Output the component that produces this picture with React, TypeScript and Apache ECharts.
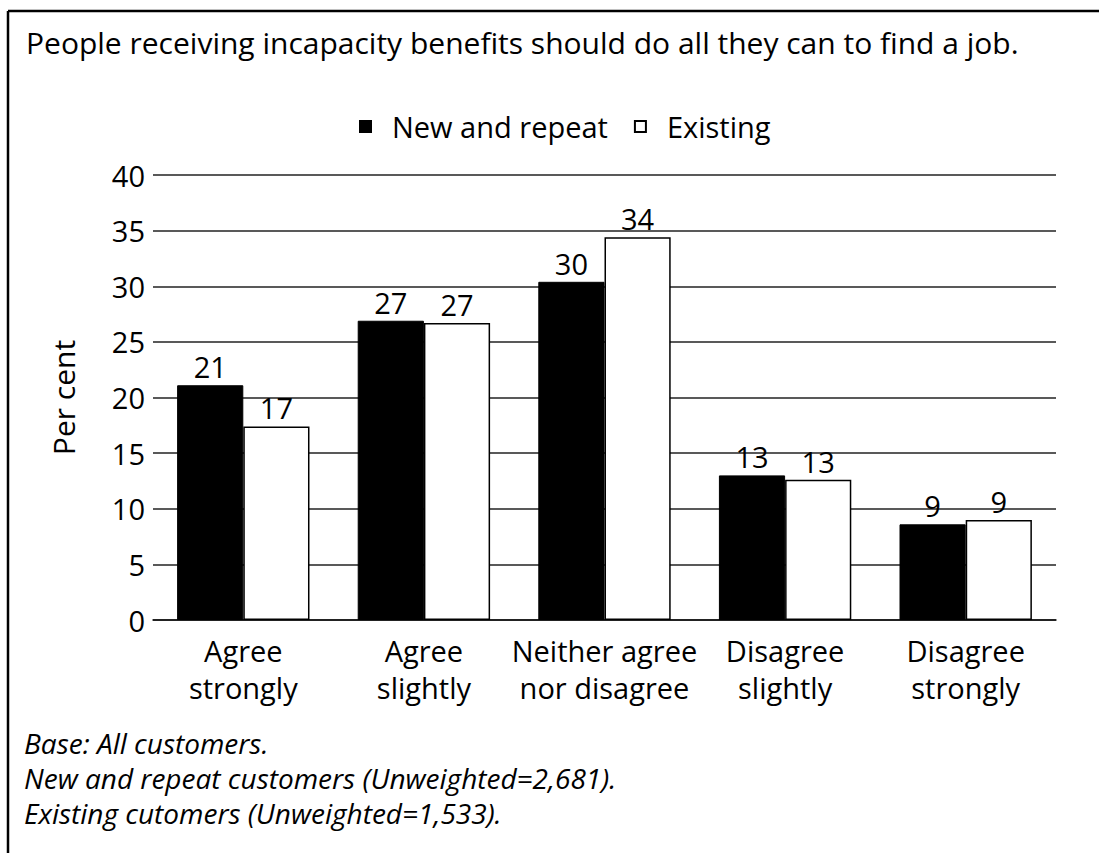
import React, { useEffect, useRef } from "react";
import * as echarts from "echarts";

const categories = [
  "Agree\nstrongly",
  "Agree\nslightly",
  "Neither agree\nnor disagree",
  "Disagree\nslightly",
  "Disagree\nstrongly",
];
const newAndRepeat = [21.1, 26.9, 30.4, 13.0, 8.6];
const existing = [17.4, 26.7, 34.4, 12.6, 9.0];
const yTicks = { min: 0, max: 40, interval: 5 };
const titleText = "People receiving incapacity benefits should do all they can to find a job.";
const footnotes = [
  "Base: All customers.",
  "New and repeat customers (Unweighted=2,681).",
  "Existing cutomers (Unweighted=1,533).",
];

const FONT = "'Open Sans', 'Noto Sans', sans-serif";
const FS = 29;

export default function App() {
  const ref = useRef<HTMLDivElement>(null);
  useEffect(() => {
    if (!ref.current) return;
    const chart = echarts.init(ref.current, undefined, { renderer: "svg" });
    const labelStyle = {
      show: true,
      position: "top" as const,
      distance: 4,
      color: "#000",
      fontSize: FS,
      fontFamily: FONT,
      formatter: (p: any) => String(Math.round(p.value)),
    };
    chart.setOption({
      animation: false,
      backgroundColor: "#fff",
      textStyle: { fontFamily: FONT, color: "#000" },
      legend: {
        top: 107,
        left: 354,
        icon: "rect",
        itemWidth: 11,
        itemHeight: 11,
        itemGap: 26,
        textStyle: {
          fontSize: FS,
          color: "#000",
          fontFamily: FONT,
          padding: [0, 0, 0, 16],
        },
        data: ["New and repeat", "Existing"],
      },
      grid: { left: 153, right: 43, top: 175, bottom: 233, containLabel: false },
      xAxis: {
        type: "category",
        data: categories,
        axisLine: { show: true, lineStyle: { color: "#111", width: 1.5 } },
        axisTick: { show: false },
        axisLabel: {
          color: "#000",
          fontSize: FS,
          lineHeight: 37,
          margin: 12,
          interval: 0,
          fontFamily: FONT,
        },
      },
      yAxis: {
        type: "value",
        min: yTicks.min,
        max: yTicks.max,
        interval: yTicks.interval,
        name: "Per cent",
        nameLocation: "middle",
        nameGap: 75,
        nameTextStyle: { fontSize: FS + 1, color: "#000", fontFamily: FONT },
        axisLine: { show: false },
        axisTick: { show: false },
        axisLabel: { color: "#000", fontSize: FS, margin: 8, fontFamily: FONT },
        splitLine: { show: true, lineStyle: { color: "#222", width: 1.5 } },
      },
      series: [
        {
          name: "New and repeat",
          type: "bar",
          data: newAndRepeat,
          barGap: "0%",
          barCategoryGap: "26.7%",
          itemStyle: { color: "#000", borderColor: "#000", borderWidth: 1 },
          label: labelStyle,
        },
        {
          name: "Existing",
          type: "bar",
          data: existing,
          itemStyle: { color: "#fff", borderColor: "#000", borderWidth: 1.5 },
          label: labelStyle,
        },
      ],
      graphic: [
        {
          type: "line",
          shape: { x1: 8, y1: 11, x2: 1099, y2: 11 },
          style: { stroke: "#000", lineWidth: 2.5 },
        },
        {
          type: "line",
          shape: { x1: 8, y1: 11, x2: 8, y2: 853 },
          style: { stroke: "#000", lineWidth: 2.5 },
        },
        {
          type: "text",
          left: 26,
          top: 27,
          style: { text: titleText, fontSize: 30, fill: "#000", fontFamily: FONT },
        },
        ...footnotes.map((t, i) => ({
          type: "text",
          left: 24,
          top: 729 + i * 35,
          style: {
            text: t,
            fontSize: 28,
            fontStyle: "italic",
            fill: "#000",
            fontFamily: FONT,
          },
        })),
      ],
    });
    return () => chart.dispose();
  }, []);
  return (
    <div
      ref={ref}
      style={{ position: "fixed", left: 0, top: 0, width: 1099, height: 853 }}
    />
  );
}
